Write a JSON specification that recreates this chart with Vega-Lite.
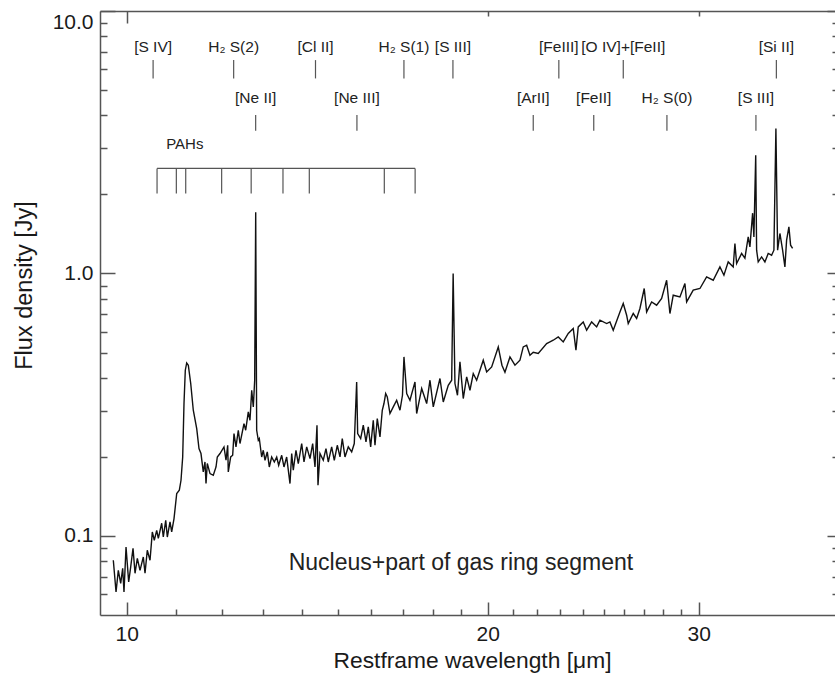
{
  "$schema": "https://vega.github.io/schema/vega-lite/v6.json",
  "width": 735,
  "height": 604,
  "autosize": {"type": "none"},
  "padding": {"left": 100, "top": 11, "right": 0, "bottom": 60},
  "background": "white",
  "config": {
    "view": {"stroke": null},
    "font": "Liberation Sans",
    "axis": {"grid": false, "domainColor": "#555", "tickColor": "#555", "labelColor": "#1a1a1a", "titleColor": "#1a1a1a", "labelFont": "Liberation Sans", "titleFont": "Liberation Sans", "titleFontWeight": "normal"}
  },
  "datasets": {
    "spectrum": [
      {"w":9.746,"f":0.0808},{"w":9.797,"f":0.0612},{"w":9.840,"f":0.0740},{"w":9.885,"f":0.0660},{"w":9.923,"f":0.0753},
      {"w":9.948,"f":0.0612},{"w":9.987,"f":0.0908},{"w":10.038,"f":0.0668},{"w":10.077,"f":0.0762},{"w":10.122,"f":0.0898},
      {"w":10.161,"f":0.0721},{"w":10.206,"f":0.0822},{"w":10.259,"f":0.0740},{"w":10.324,"f":0.0832},{"w":10.358,"f":0.0721},
      {"w":10.403,"f":0.0882},{"w":10.458,"f":0.0808},{"w":10.504,"f":0.1036},{"w":10.544,"f":0.0963},{"w":10.593,"f":0.1051},
      {"w":10.626,"f":0.0980},{"w":10.695,"f":0.1118},{"w":10.728,"f":0.0991},{"w":10.778,"f":0.1148},{"w":10.811,"f":0.0991},
      {"w":10.867,"f":0.1131},{"w":10.902,"f":0.1036},{"w":10.951,"f":0.1165},{"w":11.008,"f":0.1451},{"w":11.063,"f":0.1493},
      {"w":11.099,"f":0.1630},{"w":11.135,"f":0.2000},{"w":11.163,"f":0.3196},{"w":11.191,"f":0.4280},{"w":11.221,"f":0.4564},
      {"w":11.256,"f":0.4472},{"w":11.308,"f":0.3809},{"w":11.364,"f":0.3013},{"w":11.439,"f":0.2566},{"w":11.489,"f":0.2153},
      {"w":11.533,"f":0.2061},{"w":11.584,"f":0.1754},{"w":11.622,"f":0.1914},{"w":11.645,"f":0.1584},{"w":11.674,"f":0.1888},
      {"w":11.735,"f":0.1729},{"w":11.809,"f":0.1703},{"w":11.871,"f":0.1832},{"w":11.900,"f":0.2000},{"w":11.962,"f":0.2061},
      {"w":12.054,"f":0.2184},{"w":12.101,"f":0.1943},{"w":12.140,"f":0.2216},{"w":12.154,"f":0.1754},{"w":12.210,"f":0.2000},
      {"w":12.257,"f":0.2030},{"w":12.288,"f":0.2456},{"w":12.335,"f":0.2184},{"w":12.390,"f":0.2528},{"w":12.430,"f":0.2250},
      {"w":12.526,"f":0.2681},{"w":12.567,"f":0.2528},{"w":12.630,"f":0.2969},{"w":12.671,"f":0.2760},{"w":12.713,"f":0.3591},
      {"w":12.752,"f":0.3102},{"w":12.786,"f":0.3921},{"w":12.811,"f":1.712},{"w":12.835,"f":0.2528},{"w":12.875,"f":0.2316},
      {"w":12.900,"f":0.2351},{"w":12.959,"f":0.2000},{"w":12.999,"f":0.2121},{"w":13.042,"f":0.1943},{"w":13.099,"f":0.2090},
      {"w":13.150,"f":0.1832},{"w":13.210,"f":0.2000},{"w":13.277,"f":0.1914},{"w":13.338,"f":0.2000},{"w":13.389,"f":0.1860},
      {"w":13.467,"f":0.2030},{"w":13.526,"f":0.1832},{"w":13.596,"f":0.2000},{"w":13.683,"f":0.1584},{"w":13.728,"f":0.2061},
      {"w":13.770,"f":0.1780},{"w":13.841,"f":0.2121},{"w":13.903,"f":0.1888},{"w":13.994,"f":0.2250},{"w":14.056,"f":0.1914},
      {"w":14.129,"f":0.2184},{"w":14.219,"f":0.1972},{"w":14.292,"f":0.2250},{"w":14.356,"f":0.1832},{"w":14.411,"f":0.2642},
      {"w":14.439,"f":0.1560},{"w":14.494,"f":0.2061},{"w":14.586,"f":0.1943},{"w":14.662,"f":0.2153},{"w":14.727,"f":0.1914},
      {"w":14.823,"f":0.2184},{"w":14.898,"f":0.1943},{"w":14.984,"f":0.2216},{"w":15.062,"f":0.2000},{"w":15.128,"f":0.2351},
      {"w":15.207,"f":0.2000},{"w":15.304,"f":0.2184},{"w":15.404,"f":0.2090},{"w":15.481,"f":0.2250},{"w":15.552,"f":0.3863},
      {"w":15.582,"f":0.2456},{"w":15.672,"f":0.2351},{"w":15.751,"f":0.2642},{"w":15.833,"f":0.2282},{"w":15.903,"f":0.2603},
      {"w":15.976,"f":0.2184},{"w":16.056,"f":0.2760},{"w":16.109,"f":0.2216},{"w":16.180,"f":0.2802},{"w":16.264,"f":0.2384},
      {"w":16.336,"f":0.3013},{"w":16.389,"f":0.3196},{"w":16.443,"f":0.3489},{"w":16.494,"f":0.3386},{"w":16.579,"f":0.2927},
      {"w":16.685,"f":0.3102},{"w":16.794,"f":0.3290},{"w":16.901,"f":0.3013},{"w":16.982,"f":0.3437},{"w":17.031,"f":0.4810},
      {"w":17.120,"f":0.3489},{"w":17.228,"f":0.3290},{"w":17.395,"f":0.3863},{"w":17.451,"f":0.2927},{"w":17.620,"f":0.3645},
      {"w":17.790,"f":0.3196},{"w":17.903,"f":0.3921},{"w":18.017,"f":0.3102},{"w":18.250,"f":0.3980},{"w":18.366,"f":0.3241},
      {"w":18.543,"f":0.3752},{"w":18.665,"f":0.3921},{"w":18.718,"f":1.000},{"w":18.783,"f":0.3809},{"w":18.874,"f":0.3437},
      {"w":18.964,"f":0.4604},{"w":19.085,"f":0.3339},{"w":19.210,"f":0.4036},{"w":19.332,"f":0.3591},{"w":19.455,"f":0.4158},
      {"w":19.582,"f":0.3921},{"w":19.832,"f":0.4673},{"w":19.962,"f":0.4217},{"w":20.155,"f":0.4406},{"w":20.412,"f":0.5251},
      {"w":20.557,"f":0.4472},{"w":20.676,"f":0.4206},{"w":20.875,"f":0.4810},{"w":21.077,"f":0.4472},{"w":21.280,"f":0.4673},
      {"w":21.415,"f":0.5251},{"w":21.556,"f":0.5330},{"w":21.693,"f":0.4883},{"w":21.830,"f":0.5013},{"w":22.041,"f":0.4956},
      {"w":22.399,"f":0.5410},{"w":22.542,"f":0.5487},{"w":22.685,"f":0.5569},{"w":22.904,"f":0.5733},{"w":23.125,"f":0.5487},
      {"w":23.348,"f":0.5907},{"w":23.573,"f":0.6172},{"w":23.696,"f":0.5102},{"w":23.801,"f":0.6259},{"w":24.030,"f":0.6540},
      {"w":24.188,"f":0.6080},{"w":24.421,"f":0.6540},{"w":24.657,"f":0.6259},{"w":24.813,"f":0.6638},{"w":25.135,"f":0.6448},
      {"w":25.294,"f":0.6540},{"w":25.455,"f":0.6080},{"w":25.785,"f":0.7139},{"w":25.949,"f":0.7686},{"w":26.119,"f":0.6936},
      {"w":26.199,"f":0.6448},{"w":26.452,"f":0.7040},{"w":26.625,"f":0.6738},{"w":26.794,"f":0.7356},{"w":27.016,"f":0.8767},
      {"w":27.141,"f":0.7139},{"w":27.403,"f":0.7794},{"w":27.667,"f":0.7572},{"w":27.934,"f":0.8030},{"w":28.204,"f":0.9429},
      {"w":28.383,"f":0.7040},{"w":28.563,"f":0.8266},{"w":28.933,"f":0.8144},{"w":29.212,"f":0.9160},{"w":29.308,"f":0.7794},
      {"w":29.681,"f":0.8637},{"w":30.066,"f":0.8767},{"w":30.455,"f":0.9706},{"w":30.843,"f":0.9429},{"w":31.243,"f":1.0596},
      {"w":31.484,"f":0.9852},{"w":31.745,"f":1.1072},{"w":32.051,"f":1.0596},{"w":32.156,"f":1.3012},{"w":32.261,"f":1.0917},
      {"w":32.572,"f":1.1919},{"w":32.779,"f":1.1437},{"w":32.987,"f":1.3787},{"w":33.095,"f":1.2629},{"w":33.267,"f":1.6975},
      {"w":33.350,"f":1.3787},{"w":33.466,"f":2.824},{"w":33.524,"f":1.2269},{"w":33.627,"f":1.1072},{"w":33.847,"f":1.1568},
      {"w":34.062,"f":1.1072},{"w":34.279,"f":1.1919},{"w":34.503,"f":1.1742},{"w":34.656,"f":1.2269},{"w":34.789,"f":3.569},
      {"w":34.903,"f":1.2269},{"w":35.058,"f":1.4205},{"w":35.240,"f":1.2269},{"w":35.396,"f":1.0596},{"w":35.511,"f":1.3394},
      {"w":35.669,"f":1.5052},{"w":35.785,"f":1.2819},{"w":35.923,"f":1.2453}
    ],
    "lines": [
      {"label":"[S IV]","w":10.52,"row":"upper"},
      {"label":"H₂ S(2)","w":12.28,"row":"upper"},
      {"label":"[Cl II]","w":14.37,"row":"upper"},
      {"label":"H₂ S(1)","w":17.03,"row":"upper"},
      {"label":"[S III]","w":18.71,"row":"upper"},
      {"label":"[FeIII]","w":22.93,"row":"upper"},
      {"label":"[O IV]+[FeII]","w":25.95,"row":"upper"},
      {"label":"[Si II]","w":34.82,"row":"upper"},
      {"label":"[Ne II]","w":12.81,"row":"lower"},
      {"label":"[Ne III]","w":15.56,"row":"lower"},
      {"label":"[ArII]","w":21.83,"row":"lower"},
      {"label":"[FeII]","w":24.52,"row":"lower"},
      {"label":"H₂ S(0)","w":28.22,"row":"lower"},
      {"label":"[S III]","w":33.48,"row":"lower"}
    ],
    "pahs": [
      {"w":10.6},{"w":11.0},{"w":11.2},{"w":12.0},{"w":12.7},{"w":13.5},{"w":14.2},{"w":16.4},{"w":17.4}
    ]
  },
  "resolve": {"axis": {"x": "independent", "y": "independent"}},
  "layer": [
    {
      "data": {"name": "spectrum"},
      "mark": {"type": "line", "color": "#111", "strokeWidth": 1.4, "clip": true},
      "encoding": {
        "x": {"field": "w", "type": "quantitative",
          "scale": {"type": "log", "domain": [9.5, 38.97], "nice": false},
          "axis": {"orient": "bottom", "values": [10, 20, 30], "format": "d", "ticks": false, "domain": true, "domainWidth": 1.5, "labelFontSize": 21, "labelPadding": 8, "labelFlush": false,
            "title": "Restframe wavelength [μm]", "titleFontSize": 22.8, "titleX": 372, "titleY": 52, "titleAlign": "center", "titleBaseline": "alphabetic"}},
        "y": {"field": "f", "type": "quantitative",
          "scale": {"type": "log", "domain": [0.05, 10], "nice": false},
          "axis": {"orient": "left", "values": [0.1, 1, 10], "format": ".1f", "ticks": false, "domain": true, "domainWidth": 1.5, "labelFontSize": 21, "labelPadding": 7, "labelFlush": true,
            "title": "Flux density [Jy]", "titleFontSize": 23.5, "titleAngle": -90, "titleX": -69, "titleY": 274, "titleAlign": "center", "titleBaseline": "alphabetic"}}
      }
    },
    {
      "data": {"name": "lines"},
      "transform": [{"filter": "datum.row == 'upper'"}],
      "mark": {"type": "text", "fontSize": 15.5, "color": "#222", "baseline": "alphabetic", "align": "center"},
      "encoding": {
        "x": {"field": "w", "type": "quantitative",
          "scale": {"type": "log", "domain": [9.5, 38.97], "nice": false},
          "axis": {"orient": "bottom", "values": [10, 20, 30], "labels": false, "domain": false, "ticks": true, "tickSize": -13, "tickWidth": 1.5, "title": null}},
        "y": {"datum": 7.0, "type": "quantitative",
          "scale": {"type": "log", "domain": [0.05, 10], "nice": false},
          "axis": {"orient": "left", "values": [0.1, 1, 10], "labels": false, "domain": false, "ticks": true, "tickSize": -15, "tickWidth": 1.5, "title": null}},
        "text": {"field": "label"}
      }
    },
    {
      "data": {"name": "lines"},
      "transform": [{"filter": "datum.row == 'lower'"}],
      "mark": {"type": "text", "fontSize": 15.5, "color": "#222", "baseline": "alphabetic", "align": "center"},
      "encoding": {
        "x": {"field": "w", "type": "quantitative",
          "scale": {"type": "log", "domain": [9.5, 38.97], "nice": false},
          "axis": {"orient": "bottom", "values": [11, 12, 13, 14, 15, 16, 17, 18, 19, 21, 22, 23, 24, 25, 26, 27, 28, 29], "labels": false, "domain": false, "ticks": true, "tickSize": -6, "tickWidth": 1.5, "title": null}},
        "y": {"datum": 4.445, "type": "quantitative",
          "scale": {"type": "log", "domain": [0.05, 10], "nice": false},
          "axis": {"orient": "left", "values": [0.06, 0.07, 0.08, 0.09, 0.2, 0.3, 0.4, 0.5, 0.6, 0.7, 0.8, 0.9, 2, 3, 4, 5, 6, 7, 8, 9], "labels": false, "domain": false, "ticks": true, "tickSize": -7, "tickWidth": 1.5, "title": null}},
        "text": {"field": "label"}
      }
    },
    {
      "data": {"name": "lines"},
      "transform": [{"filter": "datum.row == 'upper'"}],
      "mark": {"type": "rule", "color": "#555", "strokeWidth": 1.2},
      "encoding": {
        "x": {"field": "w", "type": "quantitative",
          "scale": {"type": "log", "domain": [9.5, 38.97], "nice": false},
          "axis": {"orient": "top", "values": [10], "labels": false, "domain": true, "domainWidth": 1.5, "ticks": true, "tickSize": -12, "tickWidth": 1.5, "title": null}},
        "y": {"datum": 5.535, "type": "quantitative",
          "scale": {"type": "log", "domain": [0.05, 10], "nice": false},
          "axis": {"orient": "right", "values": [0.1, 1, 10], "labels": false, "domain": false, "ticks": true, "tickSize": -8, "tickWidth": 1.5, "title": null}},
        "y2": {"datum": 6.5}
      }
    },
    {
      "data": {"name": "lines"},
      "transform": [{"filter": "datum.row == 'lower'"}],
      "mark": {"type": "rule", "color": "#555", "strokeWidth": 1.2},
      "encoding": {
        "x": {"field": "w", "type": "quantitative",
          "scale": {"type": "log", "domain": [9.5, 38.97], "nice": false},
          "axis": {"orient": "top", "values": [20, 30], "labels": false, "domain": false, "ticks": true, "tickSize": -5, "tickWidth": 1.5, "title": null}},
        "y": {"datum": 3.495, "type": "quantitative",
          "scale": {"type": "log", "domain": [0.05, 10], "nice": false},
          "axis": {"orient": "right", "values": [0.06, 0.07, 0.08, 0.09, 0.2, 0.3, 0.4, 0.5, 0.6, 0.7, 0.8, 0.9, 2, 3, 4, 5, 6, 7, 8, 9], "labels": false, "domain": false, "ticks": true, "tickSize": -3, "tickWidth": 1.5, "title": null}},
        "y2": {"datum": 4.012}
      }
    },
    {
      "data": {"name": "pahs"},
      "mark": {"type": "rule", "color": "#555", "strokeWidth": 1.2},
      "encoding": {
        "x": {"field": "w", "type": "quantitative", "scale": {"type": "log", "domain": [9.5, 38.97], "nice": false}, "axis": null},
        "y": {"datum": 2.018, "type": "quantitative", "scale": {"type": "log", "domain": [0.05, 10], "nice": false}, "axis": null},
        "y2": {"datum": 2.513}
      }
    },
    {
      "data": {"name": "pahs"},
      "mark": {"type": "rule", "color": "#555", "strokeWidth": 1.2},
      "encoding": {
        "x": {"field": "w", "aggregate": "min", "type": "quantitative", "scale": {"type": "log", "domain": [9.5, 38.97], "nice": false}, "axis": null},
        "x2": {"field": "w", "aggregate": "max"},
        "y": {"datum": 2.513, "type": "quantitative", "scale": {"type": "log", "domain": [0.05, 10], "nice": false}, "axis": null}
      }
    },
    {
      "data": {"values": [{"label": "PAHs"}]},
      "mark": {"type": "text", "fontSize": 15, "color": "#222", "baseline": "alphabetic", "align": "center"},
      "encoding": {
        "x": {"datum": 11.18, "type": "quantitative", "scale": {"type": "log", "domain": [9.5, 38.97], "nice": false}, "axis": null},
        "y": {"datum": 2.99, "type": "quantitative", "scale": {"type": "log", "domain": [0.05, 10], "nice": false}, "axis": null},
        "text": {"field": "label"}
      }
    },
    {
      "data": {"values": [{"label": "Nucleus+part of gas ring segment"}]},
      "mark": {"type": "text", "fontSize": 23, "color": "#222", "baseline": "alphabetic", "align": "center"},
      "encoding": {
        "x": {"datum": 19.0, "type": "quantitative", "scale": {"type": "log", "domain": [9.5, 38.97], "nice": false}, "axis": null},
        "y": {"datum": 0.07446, "type": "quantitative", "scale": {"type": "log", "domain": [0.05, 10], "nice": false}, "axis": null},
        "text": {"field": "label"}
      }
    }
  ]
}
